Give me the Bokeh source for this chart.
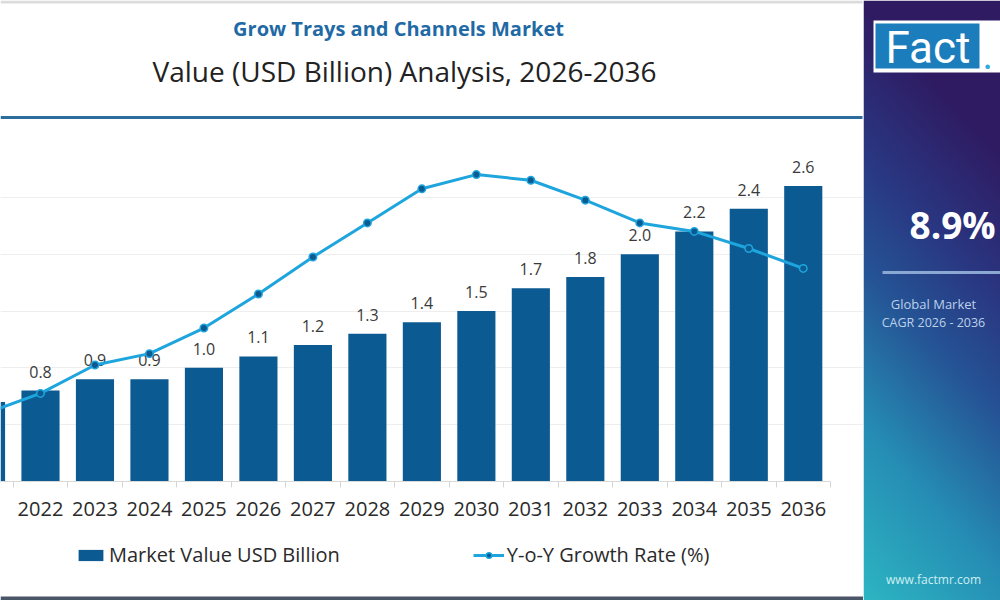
import numpy as np
from bokeh.plotting import figure
from bokeh.models import (Range1d, FixedTicker, Legend, LegendItem, ColumnDataSource,
                          BoxAnnotation)
from bokeh.layouts import row, column
from bokeh.embed import file_html
from bokeh.resources import INLINE
from bokeh.core.properties import value

# ---- data -------------------------------------------------------------
years = [2021, 2022, 2023, 2024, 2025, 2026, 2027, 2028,
         2029, 2030, 2031, 2032, 2033, 2034, 2035, 2036]
market_value = [0.7, 0.8, 0.9, 0.9, 1.0, 1.1, 1.2, 1.3,
                1.4, 1.5, 1.7, 1.8, 2.0, 2.2, 2.4, 2.6]
yoy_growth = [2.4, 3.1, 4.1, 4.5, 5.4, 6.6, 7.9, 9.1,
              10.3, 10.8, 10.6, 9.9, 9.1, 8.8, 8.2, 7.5]
tick_labels = [str(y) for y in years]

title_text = "Grow Trays and Channels Market"
subtitle_text = "Value (USD Billion) Analysis, 2026-2036"
cagr_text = "8.9%"

FONT = "Open Sans"
BAR = "#0b5a92"
LINE = "#1ea5dd"

# ---- header -----------------------------------------------------------
header = figure(width=863, height=140, x_range=Range1d(0, 863), y_range=Range1d(0, 140),
                toolbar_location=None, output_backend="svg",
                x_axis_location=None, y_axis_location=None, min_border=0)
header.outline_line_color = None
header.grid.visible = False
header.quad(left=0, right=862, bottom=137, top=140, fill_color="#dcdcdc", line_color=None)
header.segment(x0=0, x1=862, y0=23, y1=23, line_color="#2c6d9d", line_width=3)
header.text(x=[398], y=[112], text=[title_text], text_align="center", text_baseline="middle",
            text_font=value(FONT), text_font_style="bold", text_font_size="20px",
            text_color="#1f6aa5")
header.text(x=[404], y=[70], text=[subtitle_text], text_align="center", text_baseline="middle",
            text_font=value(FONT), text_font_size="28px", text_color="#222222")

# ---- main chart -------------------------------------------------------
# frame fills the whole panel; the x axis sits at value 0
PX_PER_YEAR = 830 / (2036.5 - 2021.266)
X0 = 2021.266
X1 = X0 + 863 / PX_PER_YEAR
V_TOP, V_PX = 3.0, 341
V_BOTTOM = -V_TOP * 119 / V_PX
G_TOP = 12.0
G_BOTTOM = -G_TOP * 119 / V_PX

src = ColumnDataSource(dict(year=years, mv=market_value, growth=yoy_growth))

# value labels only for the years whose bar centre lies inside the panel
shown = [i for i, y in enumerate(years) if y > X0]
label_src = ColumnDataSource(dict(year=[years[i] for i in shown],
                                  mv=[market_value[i] for i in shown],
                                  label=[f"{market_value[i]:.1f}" for i in shown]))

chart = figure(width=863, height=460, x_range=Range1d(X0, X1),
               y_range=Range1d(V_BOTTOM, V_TOP), toolbar_location=None,
               output_backend="svg", y_axis_location=None, min_border=0)
chart.extra_y_ranges = {"growth": Range1d(G_BOTTOM, G_TOP)}
chart.outline_line_color = None
chart.xgrid.visible = False
chart.ygrid.ticker = FixedTicker(ticks=[0.5, 1.0, 1.5, 2.0, 2.5, 3.0])
chart.ygrid.grid_line_color = "#eeeeee"

xa = chart.xaxis[0]
xa.fixed_location = 0
xa.bounds = (X0, 2036.5)
xa.ticker = FixedTicker(ticks=years, minor_ticks=[y + 0.5 for y in years])
xa.major_label_overrides = {y: t for y, t in zip(years, tick_labels)}
xa.major_tick_out = 0
xa.major_tick_in = 0
xa.minor_tick_out = 6
xa.minor_tick_in = 0
xa.minor_tick_line_color = "#d4d4d4"
xa.axis_line_color = "#d9d9d9"
xa.major_label_standoff = 14
xa.major_label_text_font = FONT
xa.major_label_text_font_size = "20px"
xa.major_label_text_color = "#2a2a2a"

bars = chart.vbar(x="year", top="mv", width=0.7, source=src,
                  fill_color=BAR, line_color=None)
chart.text(x="year", y="mv", text="label", source=label_src, y_offset=-13,
           text_align="center", text_baseline="bottom",
           text_font=value(FONT), text_font_size="16px", text_color="#3a3a3a")

growth_line = chart.line(x="year", y="growth", source=src, y_range_name="growth",
                         line_color=LINE, line_width=3)
growth_dots = chart.scatter(x="year", y="growth", source=src, y_range_name="growth",
                            size=7.5, fill_color=BAR, line_color=LINE, line_width=1.5)

legend = Legend(items=[LegendItem(label="Market Value USD Billion", renderers=[bars]),
                       LegendItem(label="Y-o-Y Growth Rate (%)",
                                  renderers=[growth_line, growth_dots])],
                orientation="horizontal", location=(75, 32))
legend.label_text_font = FONT
legend.label_text_font_size = "20px"
legend.label_text_color = "#2a2a2a"
legend.glyph_width = 31
legend.glyph_height = 14
legend.label_standoff = 3
legend.spacing = 133
legend.padding = 6
legend.margin = 0
legend.border_line_color = None
legend.background_fill_alpha = 0
chart.add_layout(legend)

# dark rule along the bottom edge of the panel
chart.add_layout(BoxAnnotation(bottom=V_BOTTOM, top=V_BOTTOM + 4 * V_TOP / V_PX,
                               fill_color="#4a5568", fill_alpha=1, line_color=None))

# ---- side panel -------------------------------------------------------
SW, SH = 137, 600
side = figure(width=SW, height=SH, x_range=Range1d(0, SW), y_range=Range1d(0, SH),
              toolbar_location=None, output_backend="svg",
              x_axis_location=None, y_axis_location=None, min_border=0)
side.outline_line_color = None
side.grid.visible = False

stops_t = np.array([0.0, 0.25, 0.45, 0.7, 1.0])
stops_c = np.array([[47, 27, 98], [42, 55, 130], [37, 85, 150],
                    [38, 140, 180], [45, 182, 195]], dtype=float)
rows = np.arange(SH)
cols = np.arange(SW)
v = 1.0 - (rows[:, None] + 0.5) / SH          # 0 at top, 1 at bottom
h = (cols[None, :] + 0.5) / SW
t = np.clip(v - 0.25 * h, 0, 1)
rgb = np.stack([np.interp(t, stops_t, stops_c[:, k]) for k in range(3)], axis=-1).astype(np.uint32)
img = (255 << 24) | (rgb[..., 2] << 16) | (rgb[..., 1] << 8) | rgb[..., 0]
side.image_rgba(image=[img.astype(np.uint32)], x=0, y=0, dw=SW, dh=SH)

# logo
side.quad(left=10, right=SW + 5, bottom=528, top=580, fill_color="white", line_color=None)
side.quad(left=12, right=116, bottom=532, top=577, fill_color="#1b7dbb", line_color=None)
side.text(x=[22], y=[553], text=["Fact"], text_baseline="middle",
          text_font=value("Roboto"), text_font_size="44px", text_color="white")
side.text(x=[119], y=[546], text=["."], text_baseline="middle",
          text_font=value("Roboto"), text_font_size="40px", text_color="#33a9e0")

side.text(x=[46], y=[376], text=[cagr_text], text_baseline="middle",
          text_font=value(FONT), text_font_style="bold", text_font_size="37px",
          text_color="white")
side.segment(x0=19, x1=SW, y0=328, y1=328, line_color="#8aa8d2", line_width=3)
side.text(x=[70], y=[297], text=["Global Market"], text_align="center",
          text_baseline="middle", text_font=value(FONT), text_font_size="13px",
          text_color="#bcd0ea")
side.text(x=[70], y=[278], text=["CAGR 2026 - 2036"], text_align="center",
          text_baseline="middle", text_font=value(FONT), text_font_size="12.5px",
          text_color="#bcd0ea")
side.text(x=[70], y=[21], text=["www.factmr.com"], text_align="center",
          text_baseline="middle", text_font=value(FONT), text_font_size="12px",
          text_color="#cdeff2")

layout = row(column(header, chart, spacing=0), side, spacing=0)
open("out.html", "w").write(file_html(layout, INLINE))
